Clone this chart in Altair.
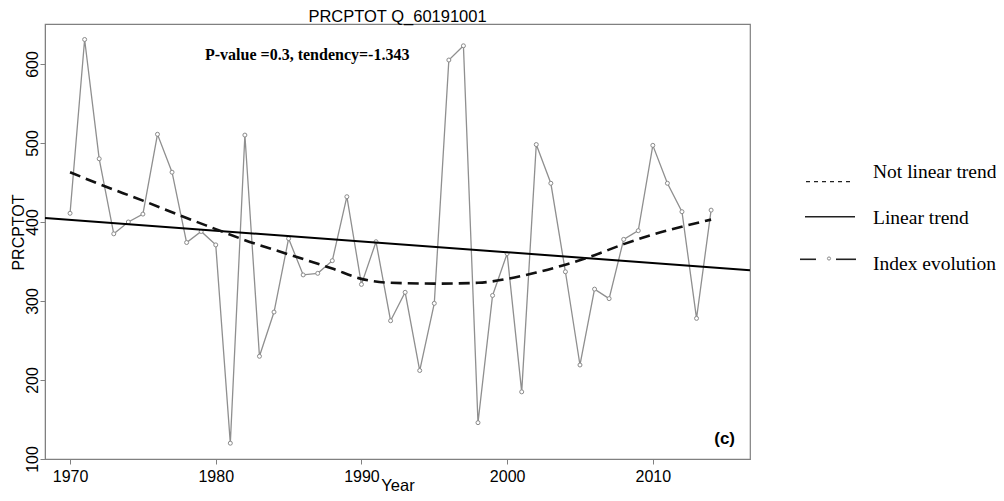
import altair as alt
import pandas as pd

# ---- data ----
years = list(range(1970, 2015))
prcptot = [411, 631, 480, 385, 400, 410, 511, 463, 374, 388,
           371, 120, 510, 230, 286, 379, 333, 335, 351, 432,
           321, 375, 275, 311, 212, 297, 605, 623, 146, 307,
           360, 185, 498, 449, 337, 219, 315, 303, 378, 389,
           497, 449, 413, 278, 415]

trend_years = [1968.28, 2016.67]
trend_values = [405, 339]

smooth_years = [1970, 1972, 1975, 1978, 1980, 1982, 1985, 1988, 1990, 1992,
                1995, 1998, 2000, 2002, 2004, 2006, 2008, 2010, 2012, 2014]
smooth_values = [463, 448, 427, 405, 391, 377, 359, 341, 328, 323,
                 322, 323, 328, 336, 346, 358, 372, 384, 394, 403]

x_ticks = [1970, 1980, 1990, 2000, 2010]
y_ticks = [100, 200, 300, 400, 500, 600]

title_text = "PRCPTOT Q_60191001"
annotation_text = "P-value =0.3, tendency=-1.343"
panel_tag = "(c)"
legend_labels = ["Not linear trend", "Linear trend", "Index evolution"]

# ---- chart ----
W, H = 705, 435
SANS = "Liberation Sans"
SERIF = "Liberation Serif"
GRAY = "#808080"

xs = alt.Scale(domain=[1968.28, 2016.67], nice=False, zero=False)
ys = alt.Scale(domain=[100, 650.6], nice=False, zero=False)

x_axis = alt.Axis(values=x_ticks, format="d", title="Year", grid=False,
                  tickSize=5, tickColor=GRAY, domainColor=GRAY,
                  labelFont=SANS, labelFontSize=16, labelColor="black", labelPadding=4,
                  titleFont=SANS, titleFontSize=16.5, titleFontWeight="normal",
                  titleColor="black", titleX=W / 2, titleY=31,
                  titleAlign="center", titleBaseline="alphabetic")
y_axis = alt.Axis(values=y_ticks, format="d", title="PRCPTOT", grid=False,
                  tickSize=5, tickColor=GRAY, domainColor=GRAY,
                  labelFont=SANS, labelFontSize=16, labelColor="black",
                  labelAngle=270, labelAlign="center", labelBaseline="alphabetic",
                  labelPadding=3,
                  titleFont=SANS, titleFontSize=16, titleFontWeight="normal",
                  titleColor="black", titleAngle=270, titleX=-22, titleY=208,
                  titleAlign="center", titleBaseline="alphabetic")

df = pd.DataFrame({"year": years, "value": prcptot})
df_trend = pd.DataFrame({"year": trend_years, "value": trend_values})
df_smooth = pd.DataFrame({"year": smooth_years, "value": smooth_values})
one = pd.DataFrame({"k": [0]})

X = alt.X("year:Q", scale=xs, axis=x_axis)
Y = alt.Y("value:Q", scale=ys, axis=y_axis)

index_line = alt.Chart(df).mark_line(color="#8f8f8f", strokeWidth=1.3).encode(x=X, y=Y)
index_pts = alt.Chart(df).mark_point(shape="circle", size=16, filled=True, fill="white",
                                     stroke="#8a8a8a", strokeWidth=1, opacity=1).encode(x=X, y=Y)
linear = alt.Chart(df_trend).mark_line(color="black", strokeWidth=2).encode(x=X, y=Y)
smooth = alt.Chart(df_smooth).mark_line(color="#111111", strokeWidth=2.6,
                                        strokeDash=[11, 6], interpolate="monotone").encode(x=X, y=Y)


def label(text, x, y, **kw):
    return alt.Chart(one).mark_text(**kw).encode(
        x=alt.value(x), y=alt.value(y), text=alt.value(text))


title = label(title_text, W / 2, -2, font=SANS, fontSize=16.5, align="center",
              baseline="alphabetic", color="black")
annot = label(annotation_text, 160, 35.5, font=SERIF, fontSize=16, fontWeight="bold",
              align="left", baseline="alphabetic", color="black")
tag = label(panel_tag, 690, 420, font=SANS, fontSize=17, fontWeight="bold",
            align="right", baseline="alphabetic", color="black")

# legend (drawn manually to the right of the plot)
leg_dash = alt.Chart(one).mark_rule(color="#222222", strokeWidth=1.2, strokeDash=[4, 4]).encode(
    x=alt.value(761), x2=alt.value(809), y=alt.value(157.7))
leg_solid = alt.Chart(one).mark_rule(color="#222222", strokeWidth=1.6).encode(
    x=alt.value(760), x2=alt.value(810), y=alt.value(192.7))
leg_idx_l = alt.Chart(one).mark_rule(color="#222222", strokeWidth=1.6).encode(
    x=alt.value(755), x2=alt.value(771), y=alt.value(235.3))
leg_idx_r = alt.Chart(one).mark_rule(color="#222222", strokeWidth=1.6).encode(
    x=alt.value(791), x2=alt.value(811), y=alt.value(235.3))
leg_idx_c = alt.Chart(one).mark_point(shape="circle", size=10, filled=True, fill="white",
                                      stroke="#8a8a8a", strokeWidth=1, opacity=1).encode(
    x=alt.value(784), y=alt.value(234.5))
leg_texts = [label(t, 828, yy, font=SERIF, fontSize=19.5, align="left",
                   baseline="alphabetic", color="black")
             for t, yy in zip(legend_labels, [154, 200, 246])]

chart = alt.layer(index_line, index_pts, linear, smooth, title, annot, tag,
                  leg_dash, leg_solid, leg_idx_l, leg_idx_r, leg_idx_c, *leg_texts
                  ).properties(
    width=W, height=H,
    autosize=alt.AutoSizeParams(type="none"),
    padding={"left": 37, "top": 16, "right": 246, "bottom": 34},
    background="white",
).configure_view(stroke=GRAY, strokeWidth=1.2)

chart.save("out.html", embed_options={"renderer": "svg", "actions": False})
